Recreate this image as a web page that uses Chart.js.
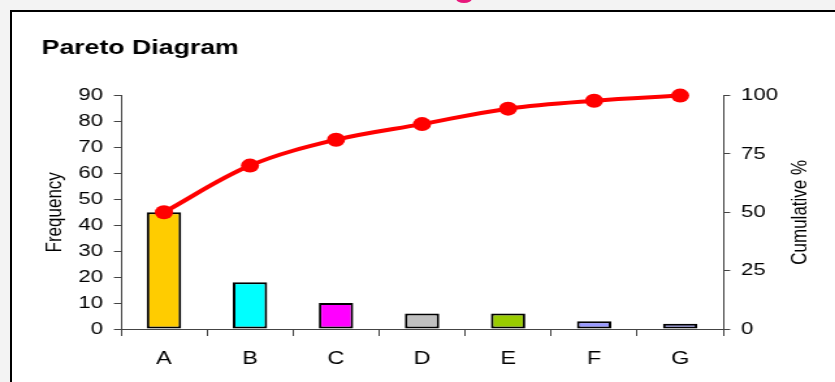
<!DOCTYPE html>
<html>
<head>
<meta charset="utf-8">
<script src="https://cdn.jsdelivr.net/npm/chart.js@4/dist/chart.umd.min.js"></script>
<style>
  html, body { margin: 0; padding: 0; width: 835px; height: 382px; overflow: hidden; background: #f3f3f3; }
  #frame { position: absolute; left: 10px; top: 10px; width: 840px; height: 390px; background: #fff;
           border-top: 2.5px solid #000; border-left: 2.5px solid #000; }
  #mark { position: absolute; left: 456px; top: -6px; width: 16px; height: 9px; border-radius: 50%; background: #e8177c; }
  #chart { position: absolute; left: 0; top: 0; }
</style>
</head>
<body>
<div id="frame"></div>
<div id="mark"></div>
<!-- drawing surface is 642 px wide and shown at 835 px, a slightly widened look -->
<canvas id="chart" width="642" height="382" style="width:835px;height:382px"></canvas>
<script>
// Defect categories, their counts and the running share of the total
const categories    = ['A', 'B', 'C', 'D', 'E', 'F', 'G'];
const frequency     = [45, 18, 10, 6, 6, 3, 2];
const cumulativePct = [50, 70, 81.1, 87.8, 94.4, 97.8, 100];

const barColors = ['#ffcc00', '#00ffff', '#ff00ff', '#c0c0c0', '#99cc00', '#9999ff', '#9999ff'];

const FONT = "'Liberation Sans', Arial, sans-serif";
Chart.defaults.font.family = FONT;
Chart.defaults.color = '#000';

// Right-hand axis title, written bottom-to-top like the left one
const rightAxisTitle = {
  id: 'rightAxisTitle',
  afterDraw(chart) {
    const { ctx, chartArea } = chart;
    const s = chart.scales.yPct;
    ctx.save();
    ctx.font = '17px ' + FONT;
    ctx.fillStyle = '#000';
    ctx.textAlign = 'center';
    ctx.textBaseline = 'middle';
    ctx.translate(s.right - 27, (chartArea.top + chartArea.bottom) / 2);
    ctx.rotate(-Math.PI / 2);
    ctx.fillText('Cumulative %', 0, 0);
    ctx.restore();
  }
};

new Chart(document.getElementById('chart'), {
  type: 'bar',
  data: {
    labels: categories,
    datasets: [
      {
        type: 'line',
        label: 'Cumulative %',
        data: cumulativePct,
        yAxisID: 'yPct',
        borderColor: '#ff0000',
        borderWidth: 4,
        tension: 0.35,
        pointRadius: 7,
        pointHoverRadius: 7,
        pointBackgroundColor: '#ff0000',
        pointBorderWidth: 0,
        clip: false,
        order: 1
      },
      {
        type: 'bar',
        label: 'Frequency',
        data: frequency,
        yAxisID: 'yFreq',
        backgroundColor: barColors,
        borderColor: '#000',
        borderWidth: 2,
        borderSkipped: false,
        barPercentage: 0.4,
        categoryPercentage: 1,
        order: 2
      }
    ]
  },
  options: {
    responsive: false,
    animation: false,
    devicePixelRatio: 1,
    layout: { padding: { left: 32, right: 0, top: 0, bottom: 0 } },
    plugins: {
      legend: { display: false },
      tooltip: { enabled: false },
      title: {
        display: true,
        text: 'Pareto Diagram',
        align: 'start',
        color: '#000',
        font: { size: 20.5, weight: 'bold' },
        padding: { top: 36, bottom: 35 }
      }
    },
    scales: {
      x: {
        offset: true,
        grid: { offset: true, drawOnChartArea: false, tickLength: 7, color: '#444' },
        border: { color: '#444', width: 1 },
        ticks: { color: '#000', font: { size: 18 }, padding: 12 },
        afterFit(s) { s.height = 53; }
      },
      yFreq: {
        position: 'left',
        min: 0,
        max: 90,
        ticks: { stepSize: 10, color: '#000', font: { size: 17 }, padding: 8.5 },
        grid: { drawOnChartArea: false, tickLength: 5.4, color: '#444' },
        border: { color: '#444' },
        title: { display: true, text: 'Frequency', color: '#000', font: { size: 17, lineHeight: 1.2 }, padding: 0 },
        afterFit(s) { s.width = 61; }
      },
      yPct: {
        position: 'right',
        min: 0,
        max: 100,
        ticks: { stepSize: 25, color: '#000', font: { size: 17 }, padding: 8.4 },
        grid: { drawOnChartArea: false, tickLength: 5.4, color: '#444' },
        border: { color: '#444' },
        afterFit(s) { s.width = 86; }
      }
    }
  },
  plugins: [rightAxisTitle]
});
</script>
</body>
</html>
